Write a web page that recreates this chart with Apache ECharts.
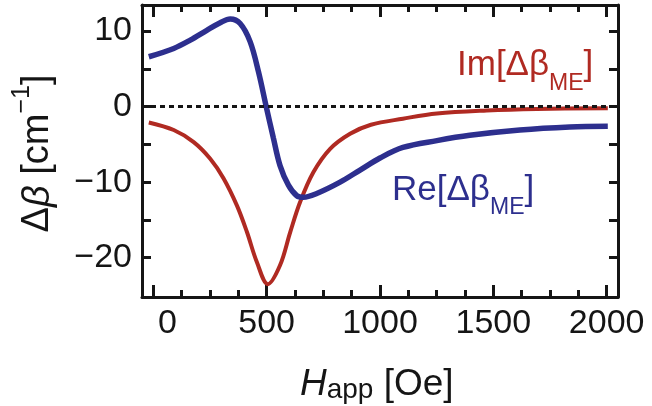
<!DOCTYPE html>
<html>
<head>
<meta charset="utf-8">
<script src="https://cdn.jsdelivr.net/npm/echarts@6/dist/echarts.min.js"></script>
<style>
  html, body { margin: 0; padding: 0; background: #fff; }
  #chart { width: 652px; height: 406px; }
  .probe { width: 652px; height: 406px; position: absolute; left: 0; top: 0; visibility: hidden; }
</style>
</head>
<body>
<div id="chart"></div>
<script>
// applied field H (Oe) and the two parts of delta beta (cm^-1)
const hRe = [-20, 90, 163, 236, 295, 339, 383, 427, 464, 498, 530, 559, 596, 633, 662, 721, 824, 912, 1000, 1101, 1251, 1396, 1617, 1837, 2005];
const reVals = [6.6, 7.7, 8.8, 10.1, 11.1, 11.6, 11.0, 8.6, 4.6, 0, -4.2, -7.8, -10.4, -11.8, -12.0, -11.5, -10.0, -8.4, -6.8, -5.4, -4.5, -3.8, -3.1, -2.7, -2.6];
const hIm = [-20, 90, 178, 251, 310, 369, 413, 457, 505, 559, 604, 648, 706, 780, 868, 960, 1101, 1251, 1471, 1692, 2005];
const imVals = [-2.1, -3.1, -4.7, -6.9, -9.5, -13.1, -16.6, -20.6, -23.5, -21.0, -16.6, -12.6, -8.7, -5.6, -3.6, -2.4, -1.6, -0.9, -0.5, -0.3, -0.2];

const xMajor = [0, 500, 1000, 1500, 2000];
const xMinor = [125, 250, 375, 625, 750, 875, 1125, 1250, 1375, 1625, 1750, 1875];
const yTicks = [-20, -15, -10, -5, 0, 5, 10];
const yLabels = [-20, -10, 0, 10];

const FONT = '"Liberation Sans", Arial, sans-serif';
const BLUE = '#2d2f8e';
const RED = '#b02a22';
const INK = '#151515';
const LW = 3;

const ctx = document.createElement('canvas').getContext('2d');
function textWidth(text, size, italic) {
    ctx.font = (italic ? 'italic ' : '') + size + 'px ' + FONT;
    return ctx.measureText(text).width;
}

// a run of text pieces laid side by side, each with its own size and vertical shift
function textRun(pieces, color) {
    let x = 0;
    return pieces.map(p => {
        const el = {
            type: 'text', x: x, y: p.dy || 0,
            style: {
                text: p.t, fill: color, verticalAlign: 'middle', align: 'left',
                font: (p.italic ? 'italic ' : '') + p.size + 'px ' + FONT
            }
        };
        x += textWidth(p.t, p.size, p.italic);
        return el;
    });
}

function runWidth(pieces) {
    return pieces.reduce((s, p) => s + textWidth(p.t, p.size, p.italic), 0);
}

function xAxisDef(pos, ticks, len, withLine, withLabel, f) {
    return {
        type: 'value', min: -50, max: 2050, position: pos,
        axisLine: { show: withLine, onZero: false, lineStyle: { color: INK, width: LW } },
        axisTick: { show: true, inside: true, length: len, customValues: ticks, lineStyle: { color: INK, width: LW } },
        axisLabel: f.noFmt ? { show: withLabel, customValues: xMajor, margin: 10, fontFamily: FONT, fontSize: 34, color: INK } : {
            show: withLabel, customValues: xMajor, margin: 10,
            fontFamily: FONT, fontSize: 34, color: INK,
            formatter: v => v === 0 ? '{z|0}' : String(v),
            rich: { z: { fontFamily: FONT, fontSize: 34, color: INK, padding: [0, 0, 0, 28] } }
        },
        splitLine: { show: false }
    };
}

function yAxisDef(pos, withLabel, f) {
    return {
        type: 'value', min: -25.2, max: 13.45, position: pos,
        axisLine: { show: true, onZero: false, lineStyle: { color: INK, width: LW } },
        axisTick: { show: true, inside: true, length: 9, customValues: yTicks, lineStyle: { color: INK, width: LW } },
        axisLabel: {
            show: withLabel, customValues: yLabels, margin: 10,
            fontFamily: FONT, fontSize: 34, color: INK,
            formatter: f.noFmt ? undefined : (v => String(v).replace('-', '\u2212'))
        },
        splitLine: { show: false }
    };
}

const imPieces = [{ t: 'Im[Δβ', size: 35 }, { t: 'ME', size: 23, dy: 18 }, { t: ']', size: 35 }];
const rePieces = [{ t: 'Re[Δβ', size: 35 }, { t: 'ME', size: 23, dy: 18 }, { t: ']', size: 35 }];
const yTitlePieces = [{ t: 'Δ', size: 38 }, { t: 'β', size: 38, italic: true }, { t: ' [cm', size: 38 }, { t: '−1', size: 25, dy: -16 }, { t: ']', size: 38 }];
const xTitlePieces = [{ t: 'H', size: 37, italic: true }, { t: 'app', size: 28, dy: 6 }, { t: ' [Oe]', size: 37 }];

function buildOption(f) {
    const opt = {
        animation: false,
        grid: { left: 142, right: 34, top: 5, bottom: 109 },
        xAxis: [
            xAxisDef('bottom', xMajor, 12, true, true, f),
            xAxisDef('bottom', xMinor, 7, false, false, f),
            xAxisDef('top', xMajor, 12, true, false, f),
            xAxisDef('top', xMinor, 7, false, false, f)
        ],
        yAxis: [yAxisDef('left', true, f), yAxisDef('right', false, f)],
        series: [
            {
                name: 'Im', type: 'line', smooth: 0.35, showSymbol: false,
                data: hIm.map((h, i) => [h, imVals[i]]),
                lineStyle: { color: RED, width: 4 }
            },
            {
                name: 'Re', type: 'line', smooth: 0.35, showSymbol: false,
                data: hRe.map((h, i) => [h, reVals[i]]),
                lineStyle: { color: BLUE, width: 5.5 }
            }
        ]
    };
    if (!f.noBg) opt.backgroundColor = '#fff';
    if (!f.noMark) {
        opt.series[0].markLine = {
            silent: true, symbol: 'none', label: { show: false },
            lineStyle: { color: INK, width: 3, type: [5, 4] },
            data: [{ yAxis: 0 }]
        };
    }
    if (!f.noGraphic) {
        opt.graphic = [
            { type: 'group', x: 457, y: 65.5, children: textRun(imPieces, RED) },
            { type: 'group', x: 392, y: 190, children: textRun(rePieces, BLUE) },
            { type: 'group', x: 38, y: 153.5, rotation: Math.PI / 2,
              children: textRun(yTitlePieces, INK).map(e => Object.assign(e, { x: e.x - runWidth(yTitlePieces) / 2 })) },
            { type: 'group', x: 300, y: 384.5, children: textRun(xTitlePieces, INK) }
        ];
    }
    return opt;
}

const chart = echarts.init(document.getElementById('chart'));
chart.setOption(buildOption({}));

function shortLines(ch) {
    return ch.getZr().storage.getDisplayList().filter(e => e.shape && e.shape.x1 != null &&
        Math.hypot(e.shape.x2 - e.shape.x1, e.shape.y2 - e.shape.y1) < 14).length;
}
// hidden companion renders; the tick marks only showed up reliably with these in place
const tickCounts = [shortLines(chart)];
[{ noGraphic: true }, { noMark: true }, { noBg: true }, { noFmt: true },
 { noGraphic: true, noMark: true, noBg: true, noFmt: true }].forEach(f => {
    const d = document.createElement('div'); d.className = 'probe'; document.body.appendChild(d);
    const ch = echarts.init(d); ch.setOption(buildOption(f));
    tickCounts.push(shortLines(ch));
});
chart.getZr().refreshImmediately();
</script>
</body>
</html>
